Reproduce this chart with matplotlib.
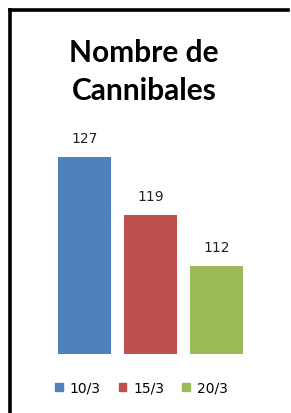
import matplotlib.pyplot as plt
from matplotlib.patches import Patch
from matplotlib.lines import Line2D

dates = ['10/3', '15/3', '20/3']
counts = [127, 119, 112]
colors = ['#4F81BD', '#C0504D', '#9BBB59']

fig = plt.figure(figsize=(2.91, 4.13), dpi=100)
ax = fig.add_axes([51.5 / 291, 59 / 413, 198 / 291, 255.5 / 413])

bars = ax.bar(range(len(counts)), counts, width=0.8, color=colors)
ax.set_xlim(-0.5, 2.5)
ax.set_ylim(100, 135)
ax.axis('off')

for b, v in zip(bars, counts):
    ax.annotate(str(v), (b.get_x() + b.get_width() / 2, v), xytext=(0, 11),
                textcoords='offset pixels', ha='center', va='bottom',
                fontsize=10, color='#222222')

# title, two lines
fig.text(144 / 291, 1 - 62 / 413, 'Nombre de', ha='center', va='baseline',
         fontsize=21.5, fontweight='bold', family='Lato')
fig.text(144 / 291, 1 - 100 / 413, 'Cannibales', ha='center', va='baseline',
         fontsize=21.5, fontweight='bold', family='Lato')

handles = [Patch(color=c, label=d) for c, d in zip(colors, dates)]
fig.legend(handles=handles, loc='center', ncol=3, frameon=False,
           bbox_to_anchor=(141.5 / 291, 1 - 388 / 413), fontsize=10,
           handlelength=0.55, handleheight=0.55, handletextpad=0.5,
           columnspacing=1.3, borderpad=0)

# frame of the original screenshot (left and top sides only)
fig.add_artist(Line2D([10 / 291, 10 / 291], [0, 1 - 10 / 413], color='black',
                      lw=2.6, transform=fig.transFigure, solid_capstyle='projecting'))
fig.add_artist(Line2D([10 / 291, 288 / 291], [1 - 10 / 413, 1 - 10 / 413], color='black',
                      lw=2.6, transform=fig.transFigure, solid_capstyle='projecting'))

fig.savefig('out.png', dpi=100)
